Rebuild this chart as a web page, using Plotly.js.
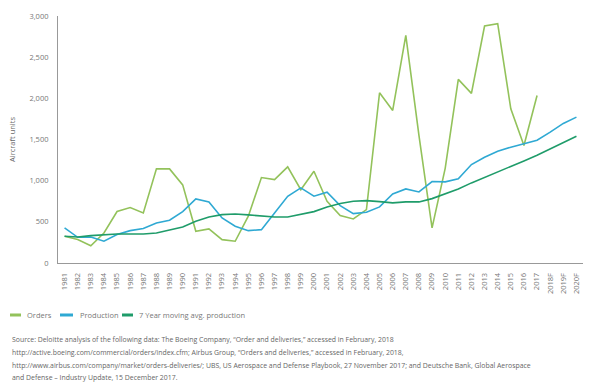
<!DOCTYPE html>
<html><head><meta charset="utf-8">
<script src="https://cdn.plot.ly/plotly-3.0.1.min.js"></script>
<style>html,body{margin:0;padding:0;background:#fff}#c{width:593px;height:384px}</style>
</head><body><div id="c"></div>
<script>
const years = ["1981","1982","1983","1984","1985","1986","1987","1988","1989","1990","1991","1992","1993","1994","1995","1996","1997","1998","1999","2000","2001","2002","2003","2004","2005","2006","2007","2008","2009","2010","2011","2012","2013","2014","2015","2016","2017","2018F","2019F","2020F"];
const orders = [324,285,210,365,625,673,608,1143,1143,949,385,414,284,264,568,1038,1013,1168,890,1115,750,576,535,649,2068,1853,2765,1550,426,1150,2230,2060,2878,2907,1873,1427,2035,null,null,null];
const production = [426,312,316,264,345,393,418,486,519,624,778,742,547,446,393,405,608,811,912,811,860,697,600,616,681,839,900,863,989,985,1022,1196,1285,1358,1407,1447,1492,1589,1695,1772];
const movingAvg = [324,316,332,345,353,353,353,365,397,438,507,559,588,596,584,572,559,559,588,624,681,722,750,758,746,730,742,742,782,839,900,973,1038,1103,1176,1240,1309,1386,1468,1540];
const yTicks = [0,500,1000,1500,2000,2500,3000];
const seriesNames = ["Orders","Production","7 Year moving avg. production"];
const sourceLines = [
 "Source: Deloitte analysis of the following data: The Boeing Company, “Order and deliveries,” accessed in February, 2018",
 "http://active.boeing.com/commercial/orders/index.cfm; Airbus Group, “Orders and deliveries,” accessed in February, 2018,",
 "http://www.airbus.com/company/market/orders-deliveries/; UBS, US Aerospace and Defense Playbook, 27 November 2017; and Deutsche Bank, Global Aerospace",
 "and Defense – Industry Update, 15 December 2017."
];
const colors = ["#93c25b","#2fa9d3","#1f9c6a"];
const vals = [orders, production, movingAvg];
const traces = vals.map((v,i)=>({x:years,y:v,type:"scatter",mode:"lines",name:seriesNames[i],line:{color:colors[i],width:1.6},connectgaps:false,showlegend:false}));
const ff = "Open Sans, sans-serif";
const srcY = [-0.308,-0.362,-0.413,-0.462];
// manual legend positions (paper coords)
const legSw = [[-0.0914,-0.0705],[0.0038,0.0286],[0.1219,0.1429]];
const legTx = [-0.0629,0.0381,0.1505];
const legY = -0.2105;
const shapes = legSw.map((s,i)=>({type:"line",xref:"paper",yref:"paper",x0:s[0],x1:s[1],y0:legY,y1:legY,line:{color:colors[i],width:3}}));
const annotations = sourceLines.map((t,i)=>({text:t,xref:"paper",yref:"paper",x:-0.0914,y:srcY[i],xanchor:"left",yanchor:"middle",showarrow:false,font:{family:ff,size:6.9,color:"#666"}}))
 .concat(seriesNames.map((t,i)=>({text:t,xref:"paper",yref:"paper",x:legTx[i],y:legY,xanchor:"left",yanchor:"middle",showarrow:false,font:{family:ff,size:7.5,color:"#777"}})));
const layout = {
  width:593,height:384,
  margin:{l:58,r:10,t:16,b:121},
  paper_bgcolor:"#fff",plot_bgcolor:"#fff",
  font:{family:ff,color:"#666",size:7},
  showlegend:false,
  xaxis:{type:"category",range:[-0.5,39.5],showgrid:false,zeroline:false,showline:true,linecolor:"#999",linewidth:1,tickangle:-90,tickfont:{family:ff,size:7.5,color:"#777"},ticks:"outside",ticklen:6,tickcolor:"rgba(0,0,0,0)",fixedrange:true},
  yaxis:{range:[0,3000],tickvals:yTicks,tickformat:",",showgrid:false,zeroline:false,showline:true,linecolor:"#999",linewidth:1,tickfont:{family:ff,size:7.5,color:"#777"},ticks:"outside",ticklen:7,tickcolor:"rgba(0,0,0,0)",title:{text:"Aircraft units",font:{family:ff,size:7.5,color:"#666"},standoff:12}},
  shapes:shapes,
  annotations:annotations
};
Plotly.newPlot("c",traces,layout,{displayModeBar:false,staticPlot:true});
</script></body></html>
